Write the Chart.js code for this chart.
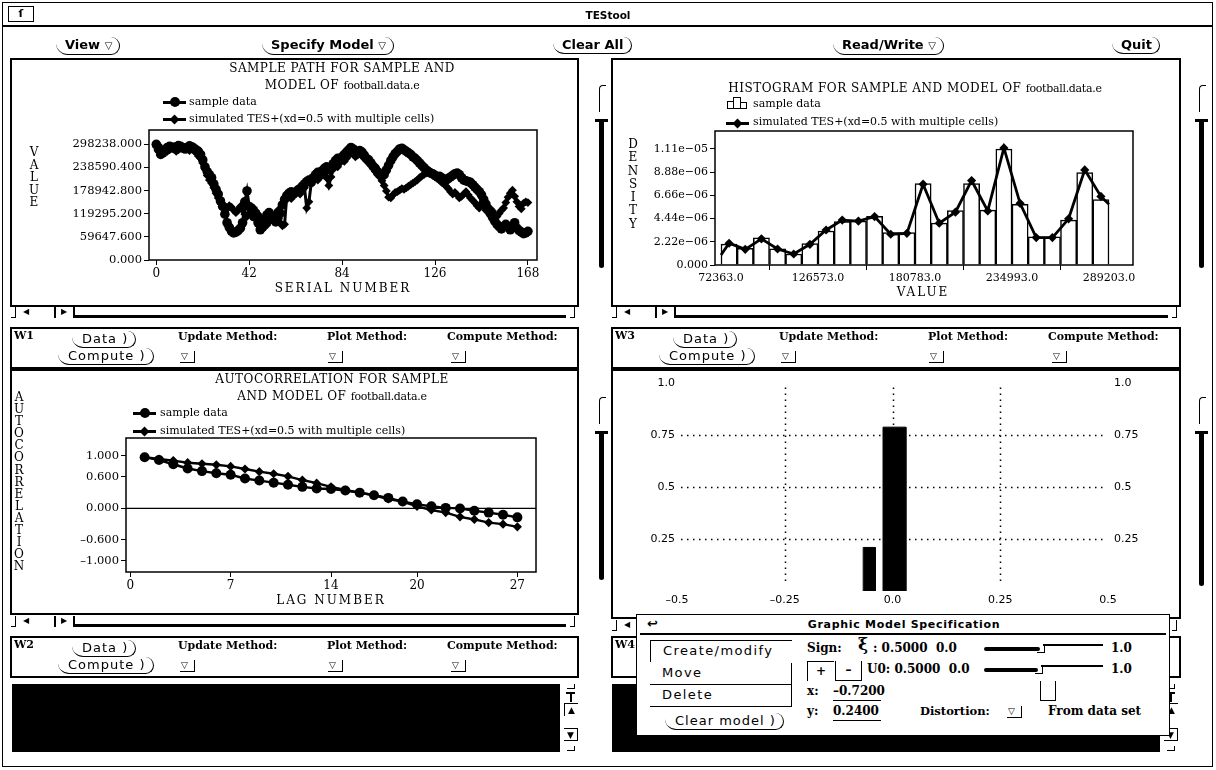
<!DOCTYPE html>
<html lang="en">
<head>
<meta charset="utf-8">
<title>TEStool</title>
<script src="https://cdn.jsdelivr.net/npm/chart.js@4.4.1/dist/chart.umd.min.js"></script>
<style>
html,body{margin:0;padding:0;background:#fff;}
body{width:1216px;height:770px;position:relative;overflow:hidden;color:#000;font-family:"DejaVu Serif",serif;}
#gui div,#gui canvas{position:absolute;box-sizing:border-box;}
.panel{border:2px solid #000;}
.btn{font:bold 13px "DejaVu Sans",sans-serif;line-height:15px;padding:0 7px 1px 9px;border-bottom:1.5px solid #000;border-right:1.5px solid #000;border-radius:0 9px 9px 12px;white-space:nowrap;}
.sbtn{font:13px "DejaVu Sans",sans-serif;letter-spacing:1px;line-height:15px;padding:0 7px 1px 10px;border-bottom:1.5px solid #000;border-right:1.5px solid #000;border-radius:0 9px 9px 12px;white-space:nowrap;}
.lbl{font:bold 11px "DejaVu Serif",serif;line-height:13px;white-space:nowrap;}
.dd{font:9px "DejaVu Sans",sans-serif;line-height:11px;width:15px;height:12px;padding-left:1px;border-right:1.5px solid #000;border-bottom:1.5px solid #000;}
.ttl{font:12px "DejaVu Serif",serif;line-height:14px;text-align:center;white-space:nowrap;letter-spacing:0.5px;}
.ttl span{font-size:11px;letter-spacing:-0.3px;}
.leg{font:11px "DejaVu Serif",serif;line-height:13px;white-space:nowrap;}
.vt{font:12px "DejaVu Serif",serif;text-align:center;width:16px;}
.ax{font:12px "DejaVu Serif",serif;line-height:14px;letter-spacing:2px;text-align:center;white-space:nowrap;}
.blk{background:#000;}
.dlg{background:#fff;border:1.5px solid #000;z-index:10;}
.dl{font:bold 12px "DejaVu Serif",serif;line-height:14px;white-space:nowrap;}
.mi{font:13px "DejaVu Sans",sans-serif;letter-spacing:1.4px;line-height:18px;white-space:nowrap;padding-left:12px;}
</style>
</head>
<body>
<div id="gui">
  <canvas id="pathChart" width="565" height="245" style="left:12px;top:60px"></canvas>
  <canvas id="histChart" width="566" height="245" style="left:613px;top:60px"></canvas>
  <canvas id="acfChart" width="565" height="241" style="left:12px;top:371px"></canvas>
  <canvas id="cellChart" width="566" height="245" style="left:613px;top:371px"></canvas>
</div>
<script>
// ---------- sample path (serial number 0..168) ----------
const samplePath = [
  298000, 285000, 272000, 276000, 284000, 290000, 293000, 291000, 288000, 292000,
  295000, 293000, 289000, 286000, 290000, 294000, 292000, 288000, 284000, 280000,
  272000, 258000, 240000, 228000, 220000, 212000, 196000, 182000, 170000, 152000,
  138000, 118000, 96000, 84000, 74000, 70000, 72000, 76000, 82000, 96000,
  150000, 178000, 138000, 120000, 112000, 118000, 96000, 78000, 84000, 102000,
  116000, 122000, 112000, 104000, 98000, 108000, 120000, 142000, 156000, 166000,
  172000, 176000, 170000, 174000, 180000, 184000, 190000, 196000, 202000, 206000,
  200000, 212000, 220000, 226000, 218000, 230000, 236000, 240000, 232000, 238000,
  248000, 256000, 262000, 258000, 266000, 272000, 278000, 284000, 290000, 286000,
  280000, 276000, 282000, 278000, 270000, 262000, 258000, 250000, 242000, 236000,
  228000, 222000, 216000, 220000, 232000, 244000, 256000, 266000, 274000, 280000,
  286000, 288000, 284000, 280000, 276000, 272000, 266000, 262000, 256000, 250000,
  244000, 238000, 232000, 228000, 224000, 222000, 218000, 214000, 216000, 212000,
  208000, 206000, 210000, 214000, 218000, 222000, 224000, 220000, 212000, 206000,
  204000, 202000, 200000, 194000, 188000, 182000, 176000, 168000, 156000, 144000,
  132000, 120000, 110000, 100000, 92000, 86000, 80000, 86000, 92000, 84000,
  78000, 88000, 96000, 82000, 76000, 72000, 68000, 70000, 74000
];
const simulatedPath = [
  292000, 296000, 288000, 282000, 286000, 280000, 284000, 288000, 285000, 280000,
  284000, 288000, 292000, 290000, 286000, 282000, 286000, 282000, 276000, 268000,
  262000, 250000, 236000, 218000, 206000, 198000, 186000, 172000, 160000, 150000,
  144000, 138000, 132000, 140000, 136000, 128000, 122000, 130000, 138000, 128000,
  118000, 112000, 120000, 128000, 134000, 126000, 118000, 110000, 104000, 96000,
  90000, 98000, 106000, 112000, 120000, 128000, 96000, 88000, 92000, 168000,
  162000, 158000, 166000, 172000, 176000, 170000, 180000, 186000, 134000, 150000,
  196000, 204000, 210000, 206000, 214000, 222000, 218000, 212000, 192000, 214000,
  234000, 244000, 240000, 250000, 258000, 254000, 262000, 270000, 276000, 272000,
  266000, 270000, 276000, 268000, 262000, 256000, 250000, 244000, 236000, 228000,
  220000, 214000, 204000, 192000, 178000, 162000, 160000, 168000, 174000, 176000,
  180000, 184000, 182000, 186000, 190000, 194000, 198000, 202000, 206000, 212000,
  216000, 220000, 224000, 226000, 222000, 218000, 214000, 210000, 206000, 200000,
  196000, 190000, 184000, 176000, 170000, 174000, 168000, 160000, 164000, 170000,
  176000, 168000, 160000, 154000, 148000, 140000, 134000, 146000, 138000, 128000,
  124000, 132000, 126000, 118000, 112000, 120000, 128000, 134000, 148000, 162000,
  172000, 180000, 164000, 150000, 138000, 132000, 146000, 150000, 148000
];
const serialTicks = [0, 42, 84, 126, 168];
const valueTicks = [0, 59647.6, 119295.2, 178942.8, 238590.4, 298238];

// ---------- histogram ----------
const binEdges = [72363, 81398, 90433, 99468, 108503, 117538, 126573, 135608, 144643,
  153678, 162713, 171748, 180783, 189818, 198853, 207888, 216923, 225958, 234993,
  244028, 253063, 262098, 271133, 280168, 289203];
const sampleDensity = [2.0e-6, 1.6e-6, 2.6e-6, 1.55e-6, 1.05e-6, 2.05e-6, 3.25e-6, 4.15e-6,
  4.2e-6, 4.65e-6, 3.1e-6, 3.1e-6, 7.8e-6, 4.0e-6, 5.2e-6, 7.8e-6, 5.25e-6, 1.11e-5,
  5.8e-6, 2.7e-6, 2.7e-6, 4.3e-6, 8.85e-6, 6.25e-6];
// model density: left edge, each bin centre, right edge
const modelDensity = [0.96e-6, 2.08e-6, 1.5e-6, 2.5e-6, 1.53e-6, 1.05e-6, 1.98e-6, 3.35e-6,
  4.3e-6, 4.2e-6, 4.63e-6, 2.94e-6, 3.03e-6, 7.73e-6, 4.0e-6, 5.05e-6, 8.08e-6, 5.17e-6,
  1.12e-5, 5.9e-6, 2.62e-6, 2.62e-6, 4.42e-6, 9.1e-6, 6.56e-6, 5.8e-6];
const valueAxisTicks = [72363, 126573, 180783, 234993, 289203];
const densityTicks = [0, 2.22e-6, 4.44e-6, 6.66e-6, 8.88e-6, 1.11e-5];
const densityTickLabels = ['0.000', '2.22e\u221206', '4.44e\u221206', '6.66e\u221206', '8.88e\u221206', '1.11e\u221205'];

// ---------- autocorrelation ----------
const lagNumbers = [1, 2, 3, 4, 5, 6, 7, 8, 9, 10, 11, 12, 13, 14, 15, 16, 17, 18, 19, 20, 21, 22, 23, 24, 25, 26, 27];
const sampleAcf = [0.975, 0.92, 0.84, 0.76, 0.71, 0.67, 0.64, 0.57, 0.53, 0.49, 0.45, 0.41, 0.38,
  0.37, 0.34, 0.30, 0.25, 0.20, 0.13, 0.08, 0.04, 0.01, 0.0, -0.045, -0.08, -0.12, -0.17];
const modelAcf = [0.975, 0.94, 0.91, 0.87, 0.85, 0.83, 0.80, 0.75, 0.70, 0.66, 0.61, 0.54, 0.48,
  0.41, 0.35, 0.30, 0.25, 0.18, 0.13, 0.04, -0.03, -0.08, -0.16, -0.21, -0.27, -0.30, -0.35];
const lagTicks = [0, 7, 14, 20, 27];
const acfTicks = [1, 0.6, 0, -0.6, -1];

// ---------- graphic model cells ----------
const cellLeft = [-0.068, -0.022];
const cellRight = [-0.040, 0.031];
const cellHeight = [0.21, 0.79];
const cellXTicks = [-0.5, -0.25, 0, 0.25, 0.5];
const cellXLabels = ['\u20130.5', '\u20130.25', '0.0', '0.25', '0.5'];
const cellYTicks = [0.25, 0.5, 0.75, 1.0];
const cellYLabels = ['0.25', '0.5', '0.75', '1.0'];
const dottedX = [-0.25, 0, 0.25];
const dottedY = [0.25, 0.5, 0.75];

// ---------- window furniture ----------
const gui = document.getElementById('gui');
function put(cls, x, y, w, h, html, css, parent) {
  const d = document.createElement('div');
  if (cls) d.className = cls;
  d.style.left = x + 'px';
  d.style.top = y + 'px';
  if (w != null) d.style.width = w + 'px';
  if (h != null) d.style.height = h + 'px';
  if (css) d.style.cssText += ';' + css;
  if (html != null) d.innerHTML = html;
  (parent || gui).appendChild(d);
  return d;
}
function rule(x, y, w, h, parent) { return put('blk', x, y, w, h, null, null, parent); }

function hScroll(x0, x1, y) {
  put(null, x0 + 1, y, 5, 11, null, 'border-right:1.5px solid #000;border-bottom:1.5px solid #000');
  put(null, x0 + 13, y - 1, 14, 12, '\u25C0', 'font:8px "DejaVu Sans";line-height:12px');
  rule(x0 + 44, y, 1.5, 11);
  put(null, x0 + 51, y - 1, 12, 12, '\u25B6', 'font:8px "DejaVu Sans";line-height:12px');
  rule(x0 + 63, y, 1.5, 11);
  rule(x0 + 65, y + 8, x1 - x0 - 78, 2.5);
  put(null, x1 - 9, y, 5, 11, null, 'border-right:1.5px solid #000;border-bottom:1.5px solid #000');
}
function vSlider(x, y0, y1) {
  put(null, x - 1, y0, 7, 27, null, 'border-left:1.5px solid #000;border-top:1.5px solid #000;border-top-left-radius:4px');
  rule(x - 5, y0 + 34, 13, 2.5);
  put('blk', x - 1, y0 + 34, 5, y1 - y0 - 34, null, 'border-radius:0 0 2.5px 2.5px');
}
function vScroll(x, y0) {
  put(null, x + 4, y0, 8, 5, null, 'border-right:1.5px solid #000;border-bottom:1.5px solid #000');
  rule(x + 3, y0 + 8, 9, 2);
  rule(x + 6.5, y0 + 8, 2, 10);
  put(null, x + 1, y0 + 19, 14, 13, '\u25B2', 'font:9px "DejaVu Sans";line-height:13px;text-align:center;border-left:1.5px solid #000;border-top:1.5px solid #000');
  put(null, x + 1, y0 + 44, 14, 13, '\u25BC', 'font:9px "DejaVu Sans";line-height:13px;text-align:center;border-right:1.5px solid #000;border-bottom:1.5px solid #000;border-top:1.5px solid #000');
  put(null, x + 4, y0 + 62, 8, 5, null, 'border-right:1.5px solid #000;border-bottom:1.5px solid #000');
}
function wPanel(x, y, w, name) {
  put('panel', x, y, w, 42);
  put('lbl', x + 4, y + 2, null, null, name);
  put('sbtn', x + 62, y + 4, null, null, 'Data )');
  put('lbl', x + 168, y + 3, null, null, 'Update Method:');
  put('lbl', x + 317, y + 3, null, null, 'Plot Method:');
  put('lbl', x + 437, y + 3, null, null, 'Compute Method:');
  put('sbtn', x + 48, y + 21, null, null, 'Compute )');
  put('dd', x + 170, y + 24, null, null, '\u25BD');
  put('dd', x + 318, y + 24, null, null, '\u25BD');
  put('dd', x + 441, y + 24, null, null, '\u25BD');
}
function legendMark(x, y, w, shape) {
  rule(x, y - 1, w, 2.5);
  const cx = x + w / 2;
  if (shape === 'circle') put('blk', cx - 5, y - 5, 10, 10, null, 'border-radius:50%');
  else put('blk', cx - 3.5, y - 3.5, 7, 7, null, 'transform:rotate(45deg)');
}
function vText(x, y, lineH, word) {
  put('vt', x - 8, y, null, null, word.split('').join('<br>'), 'line-height:' + lineH + 'px');
}

// outer window and title bar
put(null, 2, 2, 1211, 765, null, 'border:1px solid #000');
put(null, 8, 6, 26, 16, '\u017F', 'border:1px solid #000;font:bold 11px "DejaVu Sans";line-height:14px;text-align:center');
put(null, 558, 8, 100, 14, 'TEStool', 'font:bold 10.5px "DejaVu Sans";line-height:14px;text-align:center');
rule(3, 25, 1209, 2);

// top control row
put('btn', 56, 37, null, null, 'View <span style="font-size:10px">\u25BD</span>');
put('btn', 262, 37, null, null, 'Specify Model <span style="font-size:10px">\u25BD</span>');
put('btn', 553, 37, null, null, 'Clear All');
put('btn', 833, 37, null, null, 'Read/Write <span style="font-size:10px">\u25BD</span>');
put('btn', 1112, 37, null, null, 'Quit');

// plot panels and their scrollers
put('panel', 10, 58, 569, 249);
hScroll(10, 579, 307);
vSlider(600, 85, 268);
put('panel', 611, 58, 570, 249);
hScroll(611, 1181, 307);
vSlider(1200, 85, 268);
wPanel(10, 327, 569, 'W1');
wPanel(611, 327, 570, 'W3');
put('panel', 10, 369, 569, 246);
hScroll(10, 579, 616);
vSlider(600, 397, 580);
put('panel', 611, 369, 570, 250);
hScroll(611, 1181, 620);
vSlider(1200, 397, 586);
wPanel(10, 636, 569, 'W2');
wPanel(611, 636, 570, 'W4');
rule(12, 684, 548, 68);
vScroll(563, 684);
rule(612, 684, 548, 68);
vScroll(1163, 684);

// titles, legends and axis names
put('ttl', 142, 61, 400, null, 'SAMPLE PATH FOR SAMPLE AND');
put('ttl', 142, 78, 400, null, 'MODEL OF <span>football.data.e</span>');
legendMark(163, 102, 23, 'circle');
put('leg', 189, 95, null, null, 'sample data');
legendMark(163, 119, 23, 'diamond');
put('leg', 189, 112, null, null, 'simulated TES+(xd=0.5 with multiple cells)');
vText(34, 146, 12.5, 'VALUE');
put('ax', 243, 281, 200, null, 'SERIAL NUMBER');

put('ttl', 715, 81, 400, null, 'HISTOGRAM FOR SAMPLE AND MODEL OF <span>football.data.e</span>');
put(null, 727, 101, 7, 8, null, 'border:1.5px solid #000;border-right:none');
put(null, 733, 97, 8, 12, null, 'border:1.5px solid #000');
put(null, 740, 102, 7, 7, null, 'border:1.5px solid #000;border-left:none');
put('leg', 753, 97, null, null, 'sample data');
legendMark(726, 123, 23, 'diamond');
put('leg', 753, 115, null, null, 'simulated TES+(xd=0.5 with multiple cells)');
vText(633, 138, 13.3, 'DENSITY');
put('ax', 823, 285, 200, null, 'VALUE');

put('ttl', 132, 372, 400, null, 'AUTOCORRELATION FOR SAMPLE');
put('ttl', 132, 389, 400, null, 'AND MODEL OF <span>football.data.e</span>');
legendMark(133, 413, 23, 'circle');
put('leg', 160, 406, null, null, 'sample data');
legendMark(133, 431, 23, 'diamond');
put('leg', 160, 424, null, null, 'simulated TES+(xd=0.5 with multiple cells)');
vText(19, 391, 12.1, 'AUTOCORRELATION');
put('ax', 231, 593, 200, null, 'LAG NUMBER');

// graphic model specification dialog
const dlg = put('dlg', 636, 614, 534, 122);
put(null, 10, 1, 16, 16, '\u21A9', 'font:bold 13px "DejaVu Sans";line-height:16px', dlg);
put(null, 0, 3, 534, 14, 'Graphic Model Specification', 'font:bold 11px "DejaVu Sans";letter-spacing:0.7px;line-height:14px;text-align:center', dlg);
rule(3, 18, 526, 1.5, dlg);
put('mi', 13, 25, 142, 22, 'Create/modify', 'border-left:1.5px solid #000;border-top:1.5px solid #000;line-height:20px', dlg);
put('mi', 13, 48, 142, 22, 'Move', 'border-bottom:1.5px solid #000;border-right:1.5px solid #000;line-height:20px', dlg);
put('mi', 13, 70, 142, 22, 'Delete', 'border-bottom:1.5px solid #000;border-right:1.5px solid #000;line-height:20px', dlg);
put('sbtn', 28, 98, null, null, 'Clear model )', null, dlg);
put('dl', 170, 26, null, null, 'Sign:', null, dlg);
put('dl', 221, 22, null, null, '<span style="font-size:17px">\u03BE</span>', null, dlg);
put('dl', 236, 26, null, null, ': 0.5000&nbsp;&nbsp;0.0', null, dlg);
put('blk', 347, 32, 56, 4, null, 'border-radius:2px', dlg);
put(null, 400, 29, 8, 9, null, 'border-right:1.5px solid #000;border-bottom:1.5px solid #000', dlg);
rule(406, 29, 60, 1.5, dlg);
put('dl', 474, 26, null, null, '1.0', null, dlg);
put(null, 170, 46, 27, 20, '+', 'border-left:1.5px solid #000;border-top:1.5px solid #000;font:bold 12px "DejaVu Sans";line-height:18px;text-align:center', dlg);
put(null, 198, 46, 27, 20, '\u2013', 'border-left:1.5px solid #000;border-right:1.5px solid #000;border-bottom:1.5px solid #000;font:bold 12px "DejaVu Sans";line-height:18px;text-align:center', dlg);
put('dl', 230, 47, null, null, 'U0: 0.5000&nbsp;&nbsp;0.0', null, dlg);
put('blk', 347, 53, 54, 4, null, 'border-radius:2px', dlg);
put(null, 398, 50, 8, 9, null, 'border-right:1.5px solid #000;border-bottom:1.5px solid #000', dlg);
rule(404, 50, 62, 1.5, dlg);
put('dl', 474, 47, null, null, '1.0', null, dlg);
put('dl', 170, 69, null, null, 'x:', null, dlg);
put('dl', 196, 69, 48, 17, '\u20130.7200', 'border-bottom:1.5px solid #000', dlg);
put('dl', 170, 89, null, null, 'y:', null, dlg);
put('dl', 196, 89, 48, 17, '0.2400', 'border-bottom:1.5px solid #000', dlg);
put(null, 403, 66, 16, 20, null, 'border-left:1.5px solid #000;border-right:1.5px solid #000;border-bottom:1.5px solid #000', dlg);
put('dl', 283, 89, null, null, 'Distortion:', 'font-size:11.5px', dlg);
put('dd', 370, 91, null, null, '\u25BD', null, dlg);
put('dl', 411, 89, null, null, 'From data set', null, dlg);

// ---------- charts ----------
Chart.defaults.font.family = '"DejaVu Serif", serif';
Chart.defaults.color = '#000';

const frameBox = {
  id: 'frameBox',
  afterDatasetsDraw(chart) {
    const { ctx, chartArea: a } = chart;
    ctx.save();
    ctx.strokeStyle = '#000';
    ctx.lineWidth = 1.5;
    ctx.strokeRect(a.left, a.top, a.right - a.left, a.bottom - a.top);
    ctx.restore();
  }
};
const zeroLine = {
  id: 'zeroLine',
  beforeDatasetsDraw(chart) {
    const { ctx, chartArea: a, scales } = chart;
    const y = scales.y.getPixelForValue(0);
    ctx.save();
    ctx.strokeStyle = '#000';
    ctx.lineWidth = 1.2;
    ctx.beginPath(); ctx.moveTo(a.left, y); ctx.lineTo(a.right, y); ctx.stroke();
    ctx.restore();
  }
};
const dottedGrid = {
  id: 'dottedGrid',
  beforeDatasetsDraw(chart) {
    const { ctx, chartArea: a, scales } = chart;
    ctx.save();
    ctx.strokeStyle = '#000';
    ctx.lineWidth = 1.5;
    ctx.setLineDash([1.5, 4.5]);
    dottedX.forEach(v => {
      const x = Math.round(scales.x.getPixelForValue(v)) + 0.5;
      ctx.beginPath(); ctx.moveTo(x, a.top + 4); ctx.lineTo(x, a.bottom - 8); ctx.stroke();
    });
    dottedY.forEach(v => {
      const y = Math.round(scales.y.getPixelForValue(v)) + 0.5;
      ctx.beginPath(); ctx.moveTo(a.left + 4, y); ctx.lineTo(a.right - 2, y); ctx.stroke();
    });
    ctx.restore();
  }
};

function baseOptions(pad) {
  return {
    responsive: false, animation: false, devicePixelRatio: 1, events: [],
    layout: { padding: pad },
    plugins: { legend: { display: false }, tooltip: { enabled: false }, title: { display: false } }
  };
}
function framedAxis(tickValues, fmt, fontSize, fit) {
  return {
    type: 'linear',
    afterBuildTicks: s => { s.ticks = tickValues.map(v => ({ value: v })); },
    afterFit: fit,
    grid: { display: true, drawOnChartArea: false, drawTicks: true, tickLength: 5, color: '#000', lineWidth: 1 },
    border: { display: false },
    ticks: { color: '#000', autoSkip: false, maxRotation: 0, padding: 2, font: { size: fontSize }, callback: fmt }
  };
}
const lineStyle = (shape, r, w) => ({
  borderColor: '#000', backgroundColor: '#000', borderWidth: w, tension: 0,
  pointStyle: shape, pointRadius: r, pointBorderWidth: 0, pointBackgroundColor: '#000'
});

// sample path
const serialNumbers = samplePath.map((_, i) => i);
{
  const opt = baseOptions({ left: 0, top: 70, right: 40, bottom: 0 });
  opt.scales = {
    x: Object.assign(framedAxis(serialTicks, v => String(v), 12, s => { s.height = 45; }), { min: -3.3, max: 172.1 }),
    y: Object.assign(framedAxis(valueTicks, v => v.toFixed(3), 11.5, s => { s.width = 137; }), { min: 0, max: 335000 })
  };
  new Chart(document.getElementById('pathChart'), {
    type: 'line',
    data: { datasets: [
      Object.assign({ label: 'sample data', data: samplePath.map((v, i) => ({ x: serialNumbers[i], y: v })) }, lineStyle('circle', 4.8, 3)),
      Object.assign({ label: 'simulated TES+(xd=0.5 with multiple cells)', data: simulatedPath.map((v, i) => ({ x: serialNumbers[i], y: v })) }, lineStyle('rectRot', 4.4, 3))
    ] },
    options: opt,
    plugins: [frameBox]
  });
}

// histogram
const binCenters = binEdges.slice(0, -1).map((e, i) => (e + binEdges[i + 1]) / 2);
const modelX = [binEdges[0]].concat(binCenters, [binEdges[binEdges.length - 1]]);
{
  const opt = baseOptions({ left: 0, top: 71, right: 46, bottom: 0 });
  opt.scales = {
    x: Object.assign(framedAxis(valueAxisTicks, v => v.toFixed(1), 11, s => { s.height = 40; }), { min: 69010, max: 302616, offset: false }),
    y: Object.assign(framedAxis(densityTicks, (v, i) => densityTickLabels[i], 11, s => { s.width = 102; }), { min: 0, max: 1.282e-5 })
  };
  new Chart(document.getElementById('histChart'), {
    type: 'bar',
    data: { datasets: [
      Object.assign({ type: 'line', order: 0, label: 'simulated TES+(xd=0.5 with multiple cells)',
        data: modelX.map((x, i) => ({ x, y: modelDensity[i] })) }, lineStyle('rectRot', 4.6, 2.8),
        { pointRadius: c => (c.dataIndex === 0 || c.dataIndex === modelDensity.length - 1) ? 0 : 4.6 }),
      { type: 'bar', order: 1, label: 'sample data', data: binCenters.map((x, i) => ({ x, y: sampleDensity[i] })),
        backgroundColor: '#fff', borderColor: '#000', borderWidth: 1.5, barPercentage: 1, categoryPercentage: 1 }
    ] },
    options: opt,
    plugins: [frameBox]
  });
}

// autocorrelation
{
  const opt = baseOptions({ left: 0, top: 67, right: 41, bottom: 0 });
  opt.scales = {
    x: Object.assign(framedAxis(lagTicks, v => String(v), 12, s => { s.height = 40; }), { min: -0.3, max: 28.3 }),
    y: Object.assign(framedAxis(acfTicks, v => v.toFixed(3).replace('-', '\u2013'), 11.5, s => { s.width = 114; }), { min: -1.21, max: 1.34 })
  };
  new Chart(document.getElementById('acfChart'), {
    type: 'line',
    data: { datasets: [
      Object.assign({ label: 'sample data', data: sampleAcf.map((v, i) => ({ x: lagNumbers[i], y: v })) }, lineStyle('circle', 5, 2.4)),
      Object.assign({ label: 'simulated TES+(xd=0.5 with multiple cells)', data: modelAcf.map((v, i) => ({ x: lagNumbers[i], y: v })) }, lineStyle('rectRot', 4.6, 2.4))
    ] },
    options: opt,
    plugins: [frameBox, zeroLine]
  });
}

// graphic model cells
{
  const opt = baseOptions({ left: 0, top: 6, right: 0, bottom: 0 });
  const plain = (vals, labels, fit, pos, pad) => ({
    type: 'linear', position: pos,
    afterBuildTicks: s => { s.ticks = vals.map(v => ({ value: v })); },
    afterFit: fit,
    grid: { display: false, drawTicks: false },
    border: { display: false },
    ticks: { color: '#000', autoSkip: false, maxRotation: 0, padding: pad,
      font: { family: '"DejaVu Sans", sans-serif', size: 11 }, callback: (v, i) => labels[i] }
  });
  opt.scales = {
    x: Object.assign(plain(cellXTicks, cellXLabels, s => { s.height = 25; }, 'bottom', 3), { min: -0.5, max: 0.5 }),
    y: Object.assign(plain(cellYTicks, cellYLabels, s => { s.width = 64; }, 'left', 2), { min: 0, max: 1 }),
    y2: Object.assign(plain(cellYTicks, cellYLabels, s => { s.width = 71; }, 'right', 6), { min: 0, max: 1 })
  };
  new Chart(document.getElementById('cellChart'), {
    type: 'line',
    data: { datasets: cellHeight.map((h, i) => ({
      label: 'cell ' + (i + 1),
      data: [{ x: cellLeft[i], y: 0 }, { x: cellLeft[i], y: h }, { x: cellRight[i], y: h }, { x: cellRight[i], y: 0 }],
      borderColor: '#000', borderWidth: 1, backgroundColor: '#000', fill: 'origin', pointRadius: 0, tension: 0
    })) },
    options: opt,
    plugins: [dottedGrid]
  });
}
</script>
</body>
</html>
